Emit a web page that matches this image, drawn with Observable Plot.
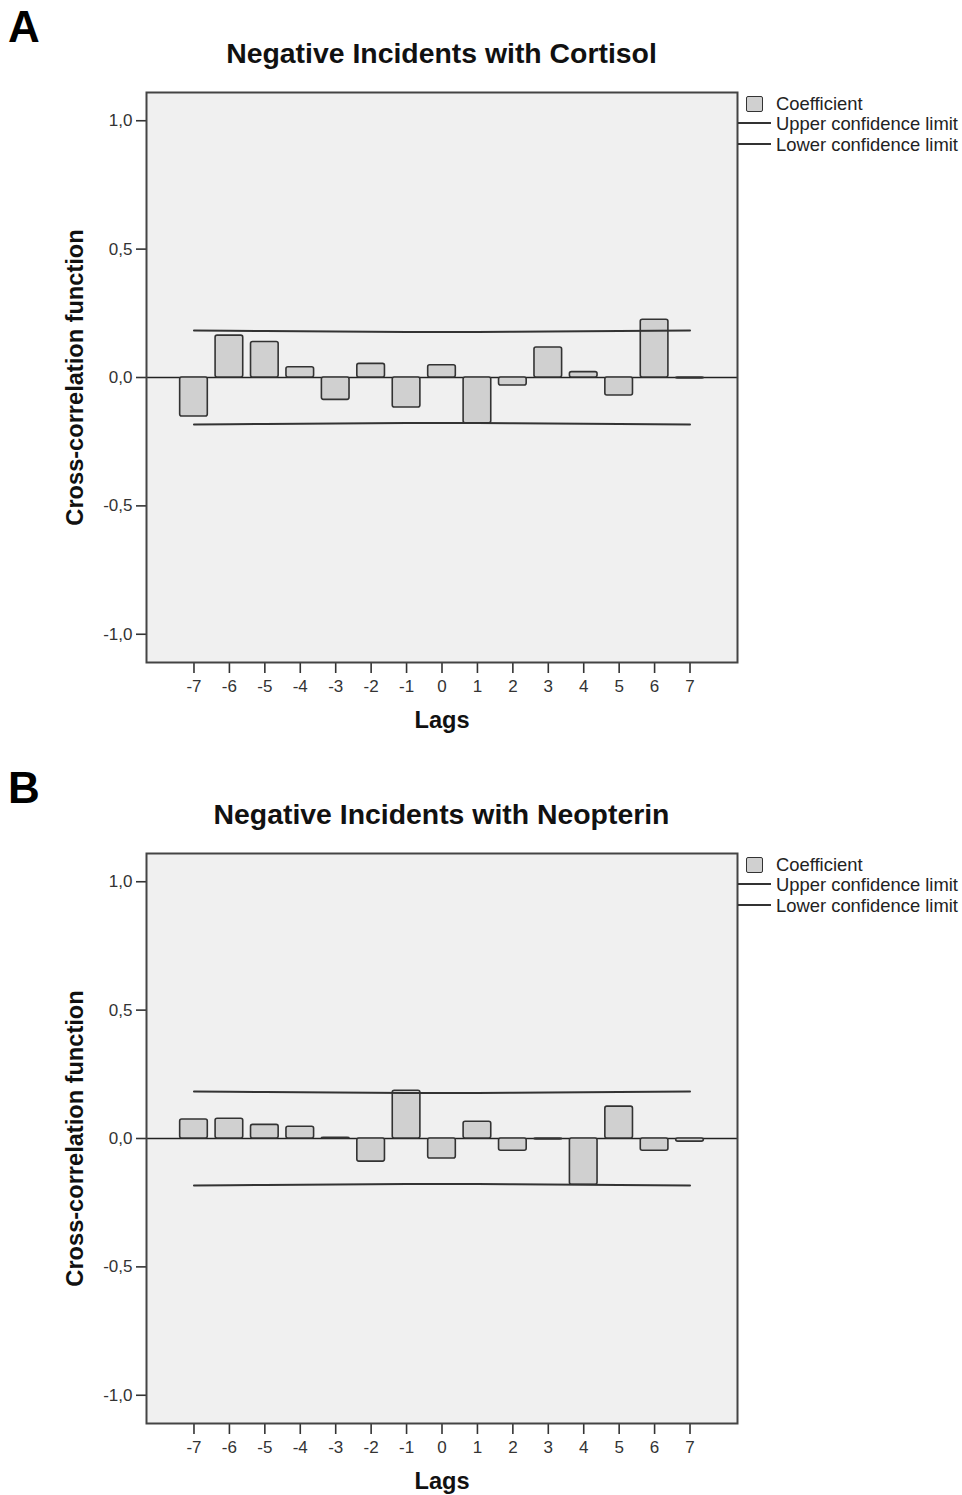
<!DOCTYPE html>
<html>
<head>
<meta charset="utf-8">
<script src="https://cdn.jsdelivr.net/npm/d3@7"></script>
<script src="https://cdn.jsdelivr.net/npm/@observablehq/plot@0.6"></script>
<style>
  html, body { margin: 0; padding: 0; background: #fff; overflow: hidden; }
  body { width: 962px; font-family: "Liberation Sans", Arial, sans-serif; }
  .panel { position: relative; width: 962px; }
  .panel svg { position: absolute; left: 0; top: 0; }
  .letter { position: absolute; left: 8px; top: 5px; font-size: 44px; font-weight: bold; line-height: 1; color: #000; }
  .title { position: absolute; left: 146px; width: 591px; top: 39px; text-align: center; font-size: 28.4px; font-weight: bold; line-height: 1; color: #111; white-space: nowrap; }
  .legend { position: absolute; left: 0; top: 0; font-size: 18.4px; color: #222; line-height: 1; }
  .legend .t { position: absolute; left: 776px; white-space: nowrap; }
  .legend .sw { position: absolute; left: 746px; width: 15px; height: 14px; background: #d0d0d0; border: 1.5px solid #333; border-radius: 2px; }
  .legend .ln { position: absolute; left: 738px; width: 33px; height: 0; border-top: 2px solid #333; }
  g[aria-label="x-axis label"] text, g[aria-label="y-axis label"] text { font-weight: bold; font-size: 23.6px; fill: #111; }
</style>
</head>
<body>
<div id="root"></div>
<script>
// ---- data ----
const lags = [-7, -6, -5, -4, -3, -2, -1, 0, 1, 2, 3, 4, 5, 6, 7];
const yTicks = [-1, -0.5, 0, 0.5, 1];

const titleA = "Negative Incidents with Cortisol";
const coefA = [-0.152, 0.163, 0.138, 0.040, -0.087, 0.053, -0.117, 0.048, -0.178, -0.031, 0.117, 0.021, -0.070, 0.225, -0.004];
const uclA  = [0.183, 0.182, 0.181, 0.180, 0.179, 0.178, 0.177, 0.177, 0.177, 0.178, 0.179, 0.180, 0.181, 0.182, 0.183];
const lclA  = [-0.183, -0.182, -0.181, -0.180, -0.179, -0.178, -0.177, -0.177, -0.177, -0.178, -0.179, -0.180, -0.181, -0.182, -0.183];

const titleB = "Negative Incidents with Neopterin";
const coefB = [0.074, 0.077, 0.053, 0.046, 0.003, -0.090, 0.186, -0.078, 0.065, -0.048, -0.004, -0.180, 0.124, -0.048, -0.012];
const uclB  = [0.183, 0.182, 0.181, 0.180, 0.179, 0.178, 0.177, 0.177, 0.177, 0.178, 0.179, 0.180, 0.181, 0.182, 0.183];
const lclB  = [-0.183, -0.182, -0.181, -0.180, -0.179, -0.178, -0.177, -0.177, -0.177, -0.178, -0.179, -0.180, -0.181, -0.182, -0.183];

const legendItems = ["Coefficient", "Upper confidence limit", "Lower confidence limit"];

// ---- drawing ----
const fmtY = d => d.toFixed(1).replace(".", ",");

function makePanel(letter, title, coef, ucl, lcl, panelHeight) {
  const div = document.createElement("div");
  div.className = "panel";
  div.style.height = panelHeight + "px";

  const data = lags.map((lag, i) => ({lag, v: coef[i], u: ucl[i], l: lcl[i]}));
  const plot = Plot.plot({
    width: 962,
    height: panelHeight,
    marginTop: 92,
    marginBottom: panelHeight - 662,
    marginLeft: 146,
    marginRight: 225,
    style: {fontFamily: "'Liberation Sans', Arial, sans-serif", fontSize: "17px", color: "#333", background: "transparent", overflow: "visible"},
    x: {domain: [-8.34, 8.34]},
    y: {domain: [-1.11, 1.11]},
    marks: [
      Plot.frame({fill: "#f0f0f0"}),
      Plot.ruleY([0], {stroke: "#222", strokeWidth: 1.6}),
      Plot.rectY(data, {x1: d => d.lag - 0.39, x2: d => d.lag + 0.39, y1: 0, y2: "v", fill: "#d0d0d0", stroke: "#333", strokeWidth: 1.6, rx: 2}),
      Plot.line(data, {x: "lag", y: "u", stroke: "#333", strokeWidth: 2}),
      Plot.line(data, {x: "lag", y: "l", stroke: "#333", strokeWidth: 2}),
      Plot.axisX({ticks: lags, tickFormat: d => String(d), tickSize: 11, tickPadding: 6, strokeWidth: 1.6,
        label: "Lags", labelAnchor: "center", labelArrow: "none", labelOffset: 65}),
      Plot.axisY({ticks: yTicks, tickFormat: fmtY, tickSize: 10, tickPadding: 4, strokeWidth: 1.6,
        label: "Cross-correlation function", labelAnchor: "center", labelArrow: "none", labelOffset: 80}),
      Plot.frame({stroke: "#444", strokeWidth: 2})
    ]
  });
  div.appendChild(plot);

  const l = document.createElement("div");
  l.className = "letter"; l.textContent = letter;
  div.appendChild(l);

  const t = document.createElement("div");
  t.className = "title"; t.textContent = title;
  div.appendChild(t);

  const lg = document.createElement("div");
  lg.className = "legend";
  const sw = document.createElement("div"); sw.className = "sw"; sw.style.top = "96px"; lg.appendChild(sw);
  const ln1 = document.createElement("div"); ln1.className = "ln"; ln1.style.top = "122px"; lg.appendChild(ln1);
  const ln2 = document.createElement("div"); ln2.className = "ln"; ln2.style.top = "143px"; lg.appendChild(ln2);
  const tops = [94.5, 114.5, 136];
  legendItems.forEach((txt, i) => {
    const s = document.createElement("div"); s.className = "t"; s.style.top = tops[i] + "px"; s.textContent = txt; lg.appendChild(s);
  });
  div.appendChild(lg);
  return div;
}

const root = document.getElementById("root");
root.appendChild(makePanel("A", titleA, coefA, uclA, lclA, 761));
root.appendChild(makePanel("B", titleB, coefB, uclB, lclB, 734));
</script>
</body>
</html>
